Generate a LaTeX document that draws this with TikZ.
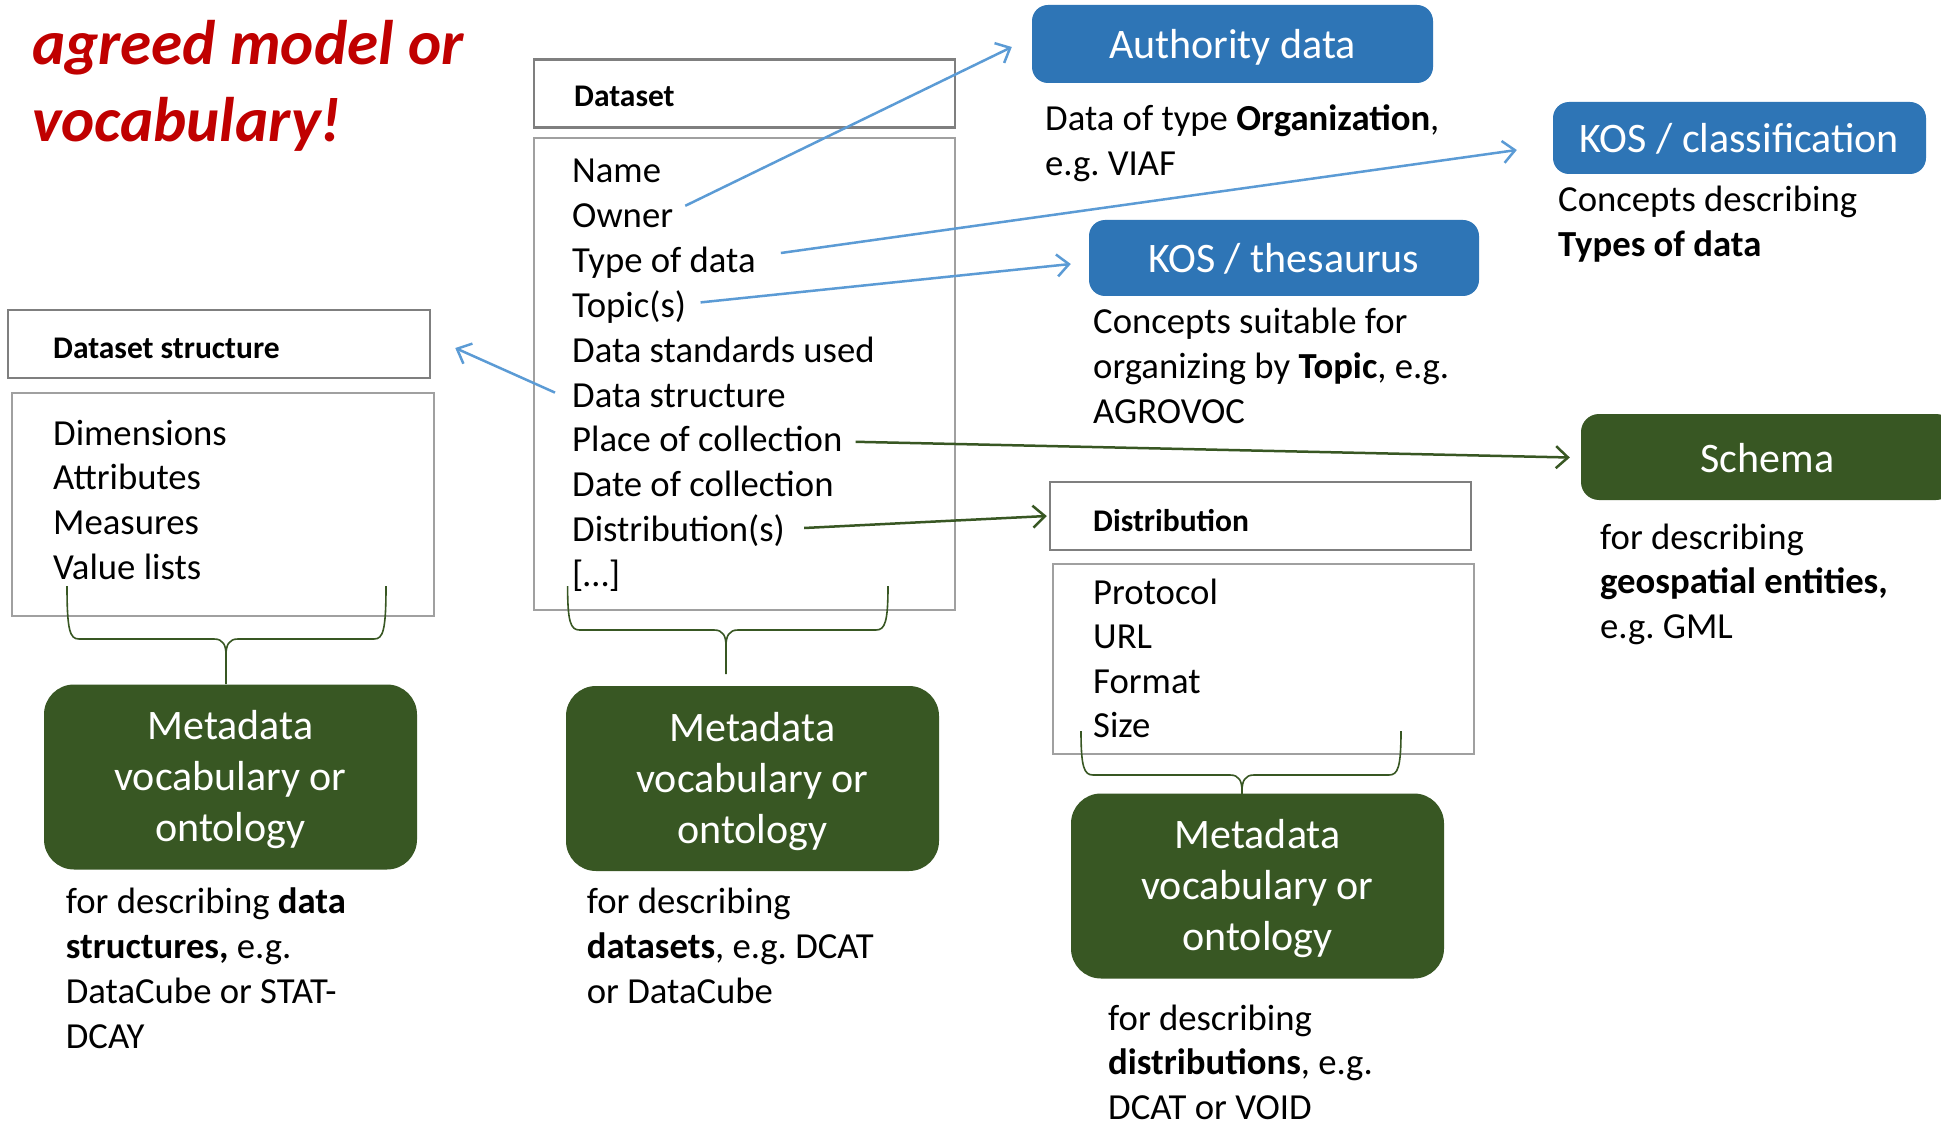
\documentclass[tikz,border=0pt]{standalone}
\usepackage{fontspec}
\setmainfont{Carlito}
\usetikzlibrary{arrows.meta,calc}

\definecolor{titlered}{HTML}{C00000}
\definecolor{boxblue}{HTML}{2E75B6}
\definecolor{linkblue}{HTML}{5B9BD5}
\definecolor{darkgreen}{HTML}{385723}
\definecolor{headgray}{HTML}{7F7F7F}
\definecolor{bodygray}{HTML}{A0A0A0}

\tikzset{
  plaintext/.style={font=\fontsize{36.7}{44.8}\selectfont\frenchspacing},
  listitem/.style={plaintext, anchor=base west, inner sep=0pt},
  desctext/.style={plaintext, anchor=base west, inner sep=0pt, text width=560pt, align=flush left},
  titletext/.style={font=\fontsize{63}{77}\selectfont\bfseries\itshape, text=titlered,
    anchor=base west, inner sep=0pt, text width=700pt, align=flush left},
  headbox/.style={draw=headgray, line width=2.5pt, minimum width=421pt, minimum height=68pt, inner sep=0pt},
  listbox/.style={draw=bodygray, line width=2pt, minimum width=421pt, inner sep=0pt},
  headlabel/.style={font=\fontsize{31.5}{38}\selectfont\bfseries, anchor=base west, inner sep=0pt},
  bluebox/.style={fill=boxblue, rounded corners=16pt, text=white, font=\fontsize{42}{51}\selectfont,
    inner sep=0pt, text height=29pt, text depth=0pt},
  schemabox/.style={fill=darkgreen, rounded corners=18pt, text=white, font=\fontsize{42}{51}\selectfont,
    inner sep=0pt, text height=30pt, text depth=0pt},
  greenbox/.style={fill=darkgreen, rounded corners=30pt, text=white, font=\fontsize{42}{51.2}\selectfont,
    text width=360pt, align=flush center, inner sep=0pt, minimum width=373pt, minimum height=185pt,
    text height=29pt, text depth=104pt},
  bluelink/.style={draw=linkblue, line width=2.5pt, -{Straight Barb[length=12pt,width=22pt]}},
  greenlink/.style={draw=darkgreen, line width=2.5pt, -{Straight Barb[length=12pt,width=22pt]}},
  bracket/.style={draw=darkgreen, line width=1.6pt},
}

% curly bracket under a list, pointing down to its vocabulary box
% #1 left x, #2 right x, #3 arm top y, #4 bar y, #5 tip x, #6 tip y
\newcommand{\listbrace}[6]{%
  \draw[bracket] (#1,#3) .. controls (#1,#4-8) and (#1+3,#4) .. (#1+12,#4) -- (#5-12,#4)
     .. controls (#5-3,#4) and (#5,#4+6) .. (#5,#4+16) -- (#5,#6);
  \draw[bracket] (#2,#3) .. controls (#2,#4-8) and (#2-3,#4) .. (#2-12,#4) -- (#5+12,#4)
     .. controls (#5+3,#4) and (#5,#4+6) .. (#5,#4+16);
}

\begin{document}
\begin{tikzpicture}[x=1pt,y=-1pt]
\useasboundingbox (0,0) rectangle (1941,1123);
\clip (0,0) rectangle (1941,1123);
\fill[white] (0,0) rectangle (1941,1123);

% heading
\node[titletext] (title) at (32,65) {agreed model or\\vocabulary!};

% Dataset
\node[headbox] (dshead) at (744.5,93.5) {};
\node[headlabel] (dslabel) at (574,107) {Dataset};
\node[listbox, minimum height=472pt] (dsbody) at (744.5,374) {};
\node[listitem] (name)   at (572,183)   {Name};
\node[listitem] (owner)  at (572,227.8) {Owner};
\node[listitem] (dtype)  at (572,272.6) {Type of data};
\node[listitem] (topic)  at (572,317.4) {Topic(s)};
\node[listitem] (stds)   at (572,362.2) {Data standards used};
\node[listitem] (dstruct) at (572,407)  {Data structure};
\node[listitem] (place)  at (572,451.8) {Place of collection};
\node[listitem] (date)   at (572,496.6) {Date of collection};
\node[listitem] (distr)  at (572,541.4) {Distribution(s)};
\node[listitem] (more)   at (572,586.2) {[…]};

% Dataset structure
\node[headbox, minimum width=422pt] (sshead) at (219,344) {};
\node[headlabel] (sslabel) at (53,358) {Dataset structure};
\node[listbox, minimum width=422.5pt, minimum height=223pt] (ssbody) at (222.75,504.5) {};
\node[listitem] (dims)  at (53,445)   {Dimensions};
\node[listitem] (attrs) at (53,489.7) {Attributes};
\node[listitem] (meas)  at (53,534.4) {Measures};
\node[listitem] (vals)  at (53,579.1) {Value lists};

% Distribution
\node[headbox] (dihead) at (1260.5,516) {};
\node[headlabel] (dilabel) at (1093,531) {Distribution};
\node[listbox, minimum height=190pt] (dibody) at (1263.5,659) {};
\node[listitem] (proto) at (1093,604)   {Protocol};
\node[listitem] (url)   at (1093,648.5) {URL};
\node[listitem] (fmt)   at (1093,693)   {Format};
\node[listitem] (size)  at (1093,737.5) {Size};

% reference vocabularies
\node[bluebox, minimum width=401pt, minimum height=78pt] (auth) at (1232.5,44) {Authority data};
\node[desctext] (authdesc) at (1045,130.5) {Data of type \textbf{Organization},\\e.g. VIAF};

\node[bluebox, minimum width=373pt, minimum height=72pt] (kosc) at (1739.5,138) {KOS / classification};
\node[desctext] (koscdesc) at (1558,211.5) {Concepts describing\\\textbf{Types of data}};

\node[bluebox, minimum width=390pt, minimum height=76pt] (kost) at (1284,258) {KOS / thesaurus};
\node[desctext] (kostdesc) at (1093,334) {Concepts suitable for\\organizing by \textbf{Topic}, e.g.\\AGROVOC};

\node[schemabox, minimum width=373pt, minimum height=86pt] (schema) at (1767.5,457) {Schema};
\node[desctext] (schemadesc) at (1600,549) {for describing\\\textbf{geospatial entities,}\\e.g. GML};

% metadata vocabularies
\node[greenbox] (gstruct) at (230.5,777) {Metadata\\vocabulary or\\ontology};
\node[desctext] (gstructdesc) at (65.7,913.7) {for describing \textbf{data}\\\textbf{structures,} e.g.\\DataCube or STAT-\\DCAY};

\node[greenbox] (gdata) at (752.5,778.5) {Metadata\\vocabulary or\\ontology};
\node[desctext] (gdatadesc) at (586.7,913.7) {for describing\\\textbf{datasets}, e.g. DCAT\\or DataCube};

\node[greenbox] (gdist) at (1257.5,886) {Metadata\\vocabulary or\\ontology};
\node[desctext] (gdistdesc) at (1108,1030) {for describing\\\textbf{distributions}, e.g.\\DCAT or VOID};

% brackets grouping each list
\listbrace{67}{386}{586}{639}{226}{684}
\listbrace{567.6}{888}{586}{630}{726}{674}
\listbrace{1081}{1401}{731}{775}{1242}{794}

% links from dataset properties
\draw[bluelink] ($(owner.base east)+(12,-22)$) -- ($(auth.west)+(-20,3)$);
\draw[bluelink] ($(dtype.base east)+(25,-19.6)$) -- ($(kosc.west)+(-36,12)$);
\draw[bluelink] ($(topic.base east)+(14.4,-15)$) -- ($(kost.west)+(-18,6)$);
\draw[bluelink] ($(dstruct.base west)+(-17,-14.4)$) -- ($(sshead.east)+(24,4)$);
\draw[greenlink] ($(place.base east)+(13,-10)$) -- ($(schema.west)+(-11,0.5)$);
\draw[greenlink] ($(distr.base east)+(19,-13.4)$) -- ($(dihead.west)+(-2,0)$);
\end{tikzpicture}
\end{document}
